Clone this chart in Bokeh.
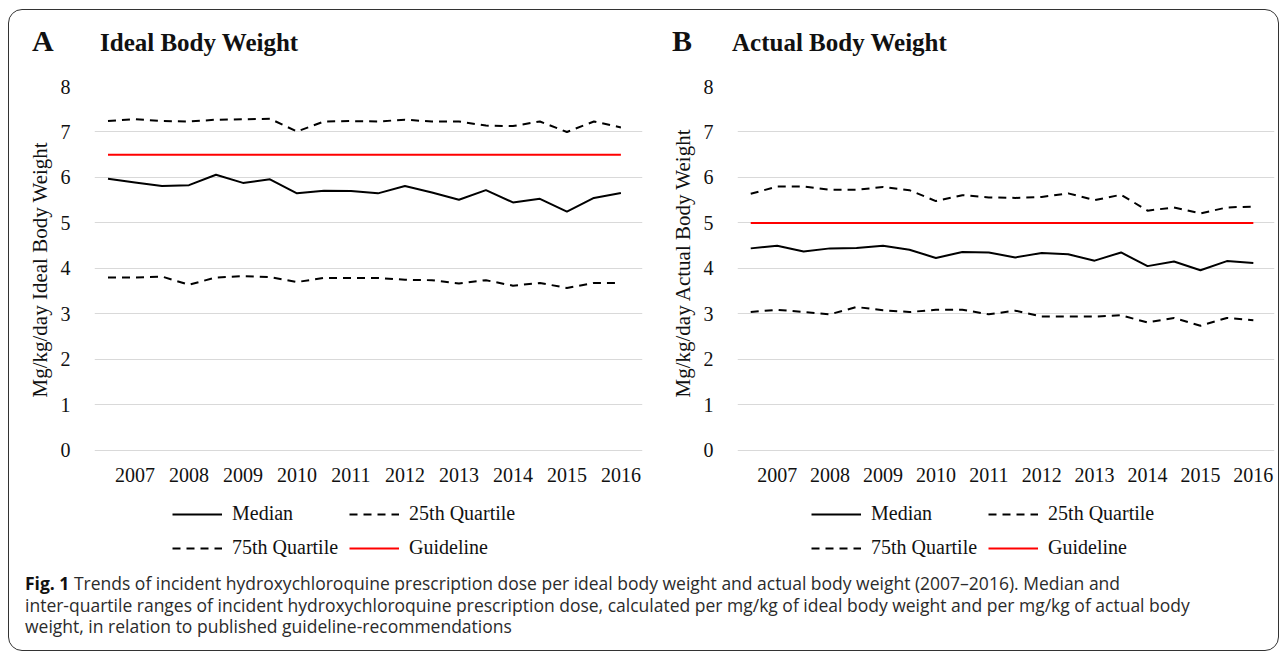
from bokeh.plotting import figure
from bokeh.models import Range1d, FixedTicker, Legend, LegendItem, Div, Title
from bokeh.layouts import column, row
from bokeh.embed import file_html
from bokeh.resources import INLINE

# ---------------- data ----------------
years = ["2007", "2008", "2009", "2010", "2011", "2012", "2013", "2014", "2015", "2016"]
periods = [f"{y} H{h}" for y in years for h in (1, 2)]  # half-year periods

ibw_median = [5.97, 5.89, 5.81, 5.83, 6.06, 5.88, 5.96, 5.65, 5.71, 5.70,
              5.65, 5.81, 5.67, 5.51, 5.72, 5.45, 5.53, 5.25, 5.55, 5.66]
ibw_q25 = [3.80, 3.80, 3.82, 3.64, 3.80, 3.83, 3.81, 3.70, 3.79, 3.79,
           3.79, 3.75, 3.74, 3.67, 3.74, 3.62, 3.68, 3.57, 3.68, 3.68]
ibw_q75 = [7.24, 7.28, 7.24, 7.23, 7.27, 7.28, 7.29, 7.01, 7.23, 7.24,
           7.23, 7.27, 7.23, 7.23, 7.14, 7.13, 7.23, 7.00, 7.23, 7.10]
ibw_guideline = 6.5

abw_median = [4.44, 4.50, 4.37, 4.44, 4.45, 4.50, 4.41, 4.23, 4.36, 4.35,
              4.24, 4.34, 4.31, 4.17, 4.35, 4.05, 4.15, 3.96, 4.16, 4.12]
abw_q25 = [3.04, 3.09, 3.04, 2.99, 3.15, 3.08, 3.04, 3.09, 3.09, 2.99,
           3.07, 2.94, 2.94, 2.94, 2.97, 2.81, 2.91, 2.74, 2.91, 2.86]
abw_q75 = [5.64, 5.80, 5.80, 5.73, 5.73, 5.79, 5.72, 5.48, 5.61, 5.56,
           5.55, 5.57, 5.65, 5.50, 5.62, 5.27, 5.34, 5.21, 5.34, 5.36]
abw_guideline = 5.0

y_ticks = [0, 1, 2, 3, 4, 5, 6, 7, 8]
legend_labels = ["Median", "25th Quartile", "75th Quartile", "Guideline"]

SERIF = "Liberation Serif"
TXT = "#111111"
FIG_H = 500
Y_LOW = -2.6   # room below zero (inside the frame) for the year labels and legend
X_PAD = 0.3    # room right of the last category for the last year label


def make_panel(ylabel, median, q25, q75, guide, width,
               mb_left, mb_right, mb_top, frame_h, legend_dx, legend_dy, label_shift):
    n = len(periods)
    xs = list(range(n))
    p = figure(width=width, height=FIG_H, output_backend="svg", toolbar_location=None,
               x_range=Range1d(-0.5, n - 0.5 + X_PAD), y_range=Range1d(Y_LOW, y_ticks[-1]),
               min_border_left=mb_left, min_border_right=mb_right,
               min_border_top=mb_top, min_border_bottom=FIG_H - mb_top - frame_h)
    p.outline_line_color = None
    p.border_fill_color = None
    p.background_fill_color = None

    # x axis sits on the zero line; one year label per pair of half-year periods
    year_pos = [i for i, per in enumerate(periods) if per.endswith("H2")]
    p.xaxis.fixed_location = 0
    p.xaxis.ticker = FixedTicker(ticks=year_pos)
    p.xaxis.major_label_overrides = {i: periods[i].split()[0] for i in year_pos}
    p.xaxis.axis_line_color = None
    p.xaxis.major_tick_line_color = None
    p.xaxis.minor_tick_line_color = None
    p.xaxis.major_label_text_font = SERIF
    p.xaxis.major_label_text_font_size = "20px"
    p.xaxis.major_label_text_color = TXT
    p.xaxis.major_label_standoff = 12
    p.xgrid.visible = False

    p.yaxis.ticker = FixedTicker(ticks=y_ticks)
    p.yaxis.axis_line_color = None
    p.yaxis.major_tick_line_color = None
    p.yaxis.minor_tick_line_color = None
    p.yaxis.major_label_text_font = SERIF
    p.yaxis.major_label_text_font_size = "20px"
    p.yaxis.major_label_text_color = TXT
    p.yaxis.major_label_standoff = 18
    p.ygrid.grid_line_color = "#d9d9d9"
    p.ygrid.grid_line_width = 1

    # y-axis title, positioned along the 0..8 span of the axis
    p.add_layout(Title(text=ylabel, align="left", offset=label_shift, standoff=12,
                       text_font=SERIF, text_font_size="21px", text_font_style="normal",
                       text_color=TXT), "left")

    r_med = p.line(xs, median, line_color="black", line_width=2)
    r_q25 = p.line(xs, q25, line_color="black", line_width=2, line_dash="8 6")
    r_q75 = p.line(xs, q75, line_color="black", line_width=2, line_dash="8 6")
    r_g = p.line(xs, [guide] * n, line_color="#ff0000", line_width=2)

    legend = Legend(items=[LegendItem(label=legend_labels[0], renderers=[r_med]),
                           LegendItem(label=legend_labels[1], renderers=[r_q25]),
                           LegendItem(label=legend_labels[2], renderers=[r_q75]),
                           LegendItem(label=legend_labels[3], renderers=[r_g])],
                    orientation="horizontal", ncols=2,
                    location=(legend_dx, legend_dy))
    legend.border_line_color = None
    legend.background_fill_alpha = 0
    legend.padding = 0
    legend.margin = 0
    legend.spacing = 11
    legend.glyph_width = 50
    legend.glyph_height = 20
    legend.label_height = 20
    legend.label_standoff = 10
    legend.label_text_font = SERIF
    legend.label_text_font_size = "20px"
    legend.label_text_color = TXT
    p.add_layout(legend, "center")
    return p


pA = make_panel("Mg/kg/day Ideal Body Weight",
                ibw_median, ibw_q25, ibw_q75, ibw_guideline,
                width=640, mb_left=85, mb_right=7, mb_top=16, frame_h=482,
                legend_dx=78, legend_dy=9, label_shift=171)
pB = make_panel("Mg/kg/day Actual Body Weight",
                abw_median, abw_q25, abw_q75, abw_guideline,
                width=629, mb_left=88, mb_right=4, mb_top=8, frame_h=491,
                legend_dx=74, legend_dy=9, label_shift=171)

span = "position:absolute;white-space:nowrap;"
header_html = (
    '<div style="position:relative;width:1269px;height:60px;font-family:\'Liberation Serif\',serif;'
    'font-weight:bold;color:#111111;">'
    f'<span style="{span}left:23px;top:16px;font-size:30px;line-height:30px;">A</span>'
    f'<span style="{span}left:91px;top:20px;font-size:25px;line-height:25px;">Ideal Body Weight</span>'
    f'<span style="{span}left:663px;top:16px;font-size:30px;line-height:30px;">B</span>'
    f'<span style="{span}left:723px;top:20px;font-size:25px;line-height:25px;">Actual Body Weight</span>'
    '</div>'
)
header = Div(text=header_html, width=1269, height=60, margin=0)

caption_html = (
    '<div style="font-family:\'Open Sans\',sans-serif;font-size:17.5px;line-height:21.5px;'
    'color:#2b2b2b;white-space:nowrap;padding:3px 0 0 16px;">'
    '<b style="color:#111">Fig. 1</b> Trends of incident hydroxychloroquine prescription dose per ideal '
    'body weight and actual body weight (2007&ndash;2016). Median and<br>'
    'inter-quartile ranges of incident hydroxychloroquine prescription dose, calculated per mg/kg of '
    'ideal body weight and per mg/kg of actual body<br>'
    'weight, in relation to published guideline-recommendations</div>'
)
cap = Div(text=caption_html, width=1269, height=80, margin=0)

layout = column(header, row(pA, pB), cap, margin=(9, 0, 0, 8),
                styles={"border": "1.5px solid #333333", "border-radius": "14px"})

open("out.html", "w").write(file_html(layout, INLINE))
